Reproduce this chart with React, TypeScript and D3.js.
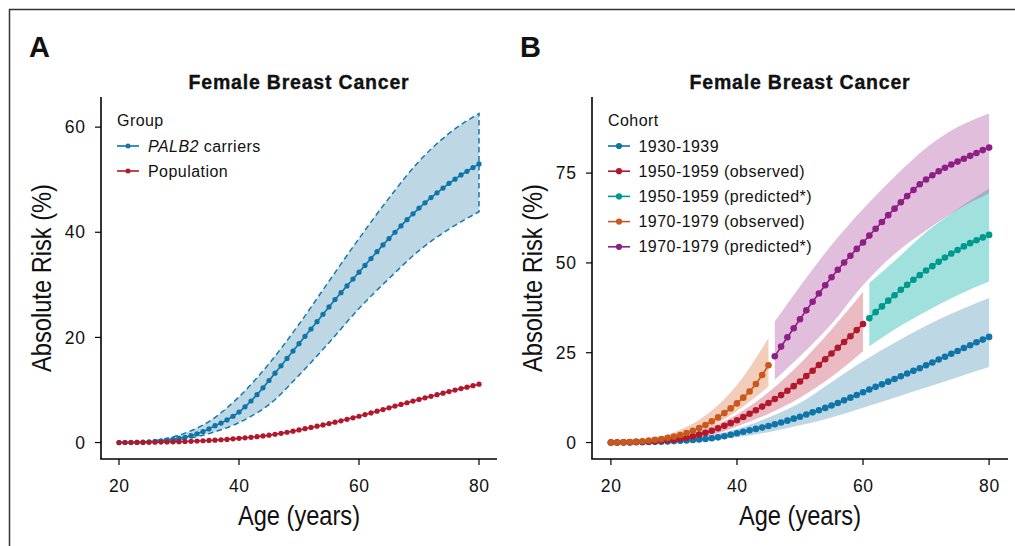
import React from 'react';
import * as d3 from 'd3';

// ---------- DATA ----------
const AGES = d3.range(20, 81); // 20..80
const BAND_AGES = [20, 25, 30, 35, 40, 45, 50, 55, 60, 65, 70, 75, 80];

// Panel A
const carriers = [
  0, 0.01, 0.03, 0.06, 0.1, 0.15, 0.22, 0.32, 0.45, 0.6,
  0.8, 1.0, 1.3, 1.65, 2.1, 2.6, 3.2, 3.7, 4.3, 5.0,
  5.8, 6.8, 7.9, 9.1, 10.4, 11.8, 13.2, 14.6, 16.0, 17.4,
  18.8, 20.2, 21.6, 23.0, 24.4, 25.8, 27.2, 28.5, 29.8, 31.1,
  32.4, 33.7, 35.0, 36.3, 37.6, 38.8, 40.0, 41.2, 42.4, 43.5,
  44.6, 45.6, 46.6, 47.5, 48.4, 49.3, 50.1, 50.9, 51.6, 52.3, 53.0,
];
const population = [
  0, 0.005, 0.01, 0.02, 0.03, 0.04, 0.06, 0.08, 0.1, 0.13,
  0.16, 0.2, 0.24, 0.29, 0.34, 0.4, 0.46, 0.53, 0.6, 0.7,
  0.8, 0.9, 1.0, 1.12, 1.25, 1.4, 1.58, 1.76, 1.96, 2.17,
  2.4, 2.63, 2.87, 3.11, 3.35, 3.6, 3.87, 4.14, 4.42, 4.71,
  5.0, 5.32, 5.64, 5.96, 6.28, 6.6, 6.93, 7.25, 7.57, 7.89,
  8.2, 8.5, 8.8, 9.1, 9.4, 9.7, 9.98, 10.26, 10.54, 10.82, 11.1,
];
const carriersUpper = [0, 0.25, 1.4, 4.0, 8.7, 15.0, 22.5, 30.7, 38.8, 46.5, 53.5, 58.8, 62.6];
const carriersLower = [0, 0.05, 0.5, 1.7, 3.8, 7.2, 12.8, 19.0, 25.5, 31.2, 36.5, 40.6, 43.9];

// Panel B
const c1930 = [
  0, 0.01, 0.02, 0.04, 0.07, 0.1, 0.14, 0.19, 0.25, 0.32,
  0.4, 0.5, 0.6, 0.72, 0.86, 1.0, 1.2, 1.45, 1.75, 2.15,
  2.6, 3.0, 3.4, 3.8, 4.2, 4.6, 5.1, 5.6, 6.1, 6.65,
  7.2, 7.8, 8.4, 9.0, 9.65, 10.3, 11.0, 11.75, 12.5, 13.25,
  14.0, 14.75, 15.5, 16.2, 16.95, 17.7, 18.45, 19.2, 19.95, 20.7,
  21.5, 22.3, 23.1, 23.9, 24.7, 25.5, 26.3, 27.1, 27.9, 28.65, 29.4,
];
const c1950obs = [
  0, 0.02, 0.05, 0.09, 0.14, 0.2, 0.28, 0.38, 0.5, 0.64,
  0.8, 1.05, 1.35, 1.75, 2.2, 2.7, 3.3, 3.95, 4.65, 5.4,
  6.2, 7.1, 8.0, 9.0, 10.0, 11.0, 12.1, 13.2, 14.4, 15.7,
  17.0, 18.5, 20.0, 21.6, 23.2, 24.8, 26.4, 28.0, 29.6, 31.3, 33.0,
]; // ages 20-60
const c1950pred = [
  34.6, 36.3, 37.9, 39.5, 41.0, 42.5, 43.9, 45.3, 46.6, 47.9,
  49.1, 50.3, 51.5, 52.6, 53.6, 54.6, 55.5, 56.3, 57.1, 57.8,
]; // ages 61-80
const c1970obs = [
  0, 0.03, 0.08, 0.15, 0.25, 0.38, 0.55, 0.75, 1.0, 1.3,
  1.65, 2.1, 2.65, 3.3, 4.05, 4.9, 5.9, 7.0, 8.2, 9.5,
  10.9, 12.5, 14.2, 16.3, 18.8, 21.5,
]; // ages 20-45
const c1970pred = [
  24.0, 26.7, 29.3, 31.8, 34.3, 36.8, 39.2, 41.5, 43.8, 46.0,
  48.1, 50.1, 52.0, 53.9, 55.7, 57.6, 59.5, 61.4, 63.3, 65.1,
  66.9, 68.6, 70.3, 71.9, 73.2, 74.4, 75.5, 76.5, 77.4, 78.2,
  79.0, 79.8, 80.6, 81.4, 82.1,
]; // ages 46-80

// Confidence bands (B)
const b1930Ages = [20, 25, 30, 35, 40, 45, 50, 55, 60, 65, 70, 75, 80];
const b1930Upper = [0, 0.2, 0.6, 1.8, 3.8, 7.0, 11.0, 16.8, 22.6, 27.8, 32.5, 36.6, 40.2];
const b1930Lower = [0, 0.05, 0.2, 0.6, 1.5, 2.9, 4.8, 7.0, 9.7, 12.5, 15.3, 18.2, 21.0];
const b1950oAges = [20, 25, 30, 35, 40, 45, 50, 55, 60];
const b1950oUpper = [0, 0.35, 1.3, 3.8, 7.8, 14.0, 22.0, 31.5, 42.0];
const b1950oLower = [0, 0.08, 0.4, 1.6, 4.5, 8.0, 12.5, 18.3, 25.4];
const b1950pAges = [61, 65, 70, 75, 80];
const b1950pUpper = [44.4, 50.5, 58.5, 65.0, 70.7];
const b1950pLower = [26.8, 31.5, 36.5, 41.0, 44.8];
const b1970oAges = [20, 25, 30, 35, 40, 45];
const b1970oUpper = [0, 0.6, 2.8, 7.5, 16.0, 29.1];
const b1970oLower = [0, 0.15, 1.0, 3.6, 8.8, 15.6];
const b1970pAges = [46, 50, 55, 60, 65, 70, 75, 80];
const b1970pUpper = [33.7, 43.5, 55.0, 65.0, 74.0, 82.0, 87.8, 91.6];
const b1970pLower = [17.5, 24.0, 33.0, 43.8, 52.5, 59.0, 64.8, 69.4];

const X_TICKS = [20, 40, 60, 80];
const Y_TICKS_A = [0, 20, 40, 60];
const Y_TICKS_B = [0, 25, 50, 75];

const GROUP_LABELS = ['PALB2', 'Population'];
const COHORT_LABELS = [
  '1930-1939',
  '1950-1959 (observed)',
  '1950-1959 (predicted*)',
  '1970-1979 (observed)',
  '1970-1979 (predicted*)',
];

// ---------- STYLE ----------
const FONT = "'Liberation Sans', Arial, Helvetica, sans-serif";
const BLUE = '#0F75A8';
const RED = '#B2182B';
const TEAL = '#00998E';
const ORANGE = '#C9581D';
const PURPLE = '#8E1F84';
const BAND_OPACITY = 0.4;
const BLUE_BAND = '#5A9BBE';
const RED_BAND = '#CD5569';
const TEAL_BAND = '#14B4AA';
const ORANGE_BAND = '#DE8252';
const PURPLE_BAND = '#B45FA7';

const TOP = 97;
const BOTTOM = 459;

function expandDomain(vals: number[]): [number, number] {
  const mn = d3.min(vals) as number;
  const mx = d3.max(vals) as number;
  const r = mx - mn;
  return [mn - 0.05 * r, mx + 0.05 * r];
}

type Series = { ages: number[]; vals: number[]; color: string };
type Band = { ages: number[]; up: number[]; lo: number[]; fill: string; dashed?: string };

function Panel(props: {
  left: number;
  right: number;
  letter: string;
  yTicks: number[];
  yDomain: [number, number];
  bands: Band[];
  series: Series[];
  dotR: number;
  lineW: number;
  children?: React.ReactNode;
}) {
  const { left, right, letter, yTicks, yDomain, bands, series, dotR, lineW } = props;
  const x = d3.scaleLinear().domain(expandDomain([20, 80])).range([left, right]);
  const y = d3.scaleLinear().domain(yDomain).range([BOTTOM, TOP]);
  const cx = (left + right) / 2;
  const line = d3
    .line<[number, number]>()
    .x((d) => x(d[0]))
    .y((d) => y(d[1]));
  return (
    <g>
      <text x={left - 72} y={56.5} fontFamily={FONT} fontWeight="bold" fontSize={29} fill="#111">
        {letter}
      </text>
      <text
        x={cx}
        y={89}
        textAnchor="middle"
        fontFamily={FONT}
        fontWeight="bold"
        fontSize={19.5}
        letterSpacing={0.8}
        fill="#111"
        stroke="#111"
        strokeWidth={0.35}
      >
        Female Breast Cancer
      </text>
      {/* bands */}
      {bands.map((b, i) => {
        const pts = b.ages.map((a, j) => [a, b.up[j], b.lo[j]] as [number, number, number]);
        const area = d3
          .area<[number, number, number]>()
          .x((d) => x(d[0]))
          .y0((d) => y(d[2]))
          .y1((d) => y(d[1]))
          .curve(d3.curveMonotoneX);
        return (
          <path
            key={'b' + i}
            d={area(pts) || ''}
            fill={b.fill}
            fillOpacity={BAND_OPACITY}
            stroke={b.dashed || 'none'}
            strokeWidth={b.dashed ? 1.5 : 0}
            strokeDasharray={b.dashed ? '5.5 3.5' : undefined}
          />
        );
      })}
      {/* lines */}
      {series.map((s, i) => (
        <path
          key={'l' + i}
          d={line(s.ages.map((a, j) => [a, s.vals[j]] as [number, number])) || ''}
          fill="none"
          stroke={s.color}
          strokeWidth={lineW}
        />
      ))}
      {/* points */}
      {series.map((s, i) => (
        <g key={'p' + i} fill={s.color}>
          {s.ages.map((a, j) => (
            <circle key={j} cx={x(a)} cy={y(s.vals[j])} r={dotR} />
          ))}
        </g>
      ))}
      {/* axes */}
      <line x1={left} x2={left} y1={TOP} y2={BOTTOM} stroke="#000" strokeWidth={1.6} />
      <line x1={left - 0.8} x2={right} y1={BOTTOM} y2={BOTTOM} stroke="#000" strokeWidth={1.6} />
      {yTicks.map((t) => (
        <g key={'yt' + t}>
          <line x1={left - 6} x2={left} y1={y(t)} y2={y(t)} stroke="#000" strokeWidth={1.2} />
          <text
            x={left - 15.5}
            y={y(t) + 6.2}
            textAnchor="end"
            fontFamily={FONT}
            fontSize={17.5}
            letterSpacing={0.6}
            fill="#111"
          >
            {t}
          </text>
        </g>
      ))}
      {X_TICKS.map((t) => (
        <g key={'xt' + t}>
          <line x1={x(t)} x2={x(t)} y1={BOTTOM} y2={BOTTOM + 6} stroke="#000" strokeWidth={1.2} />
          <text
            x={x(t) + 0.3}
            y={492}
            textAnchor="middle"
            fontFamily={FONT}
            fontSize={17.5}
            letterSpacing={0.6}
            fill="#111"
          >
            {t}
          </text>
        </g>
      ))}
      <text
        x={cx}
        y={525}
        textAnchor="middle"
        fontFamily={FONT}
        fontSize={27.5}
        textLength={122}
        lengthAdjust="spacingAndGlyphs"
        fill="#111"
      >
        Age (years)
      </text>
      <text
        transform={`translate(${left - 50}, ${(TOP + BOTTOM) / 2}) rotate(-90)`}
        textAnchor="middle"
        fontFamily={FONT}
        fontSize={28}
        textLength={188}
        lengthAdjust="spacingAndGlyphs"
        fill="#111"
      >
        Absolute Risk (%)
      </text>
      {props.children}
    </g>
  );
}

function LegendKey(props: { x: number; y: number; color: string; r: number }) {
  return (
    <g>
      <line x1={props.x} x2={props.x + 22} y1={props.y} y2={props.y} stroke={props.color} strokeWidth={1.6} />
      <circle cx={props.x + 11} cy={props.y} r={props.r} fill={props.color} />
    </g>
  );
}

export default function App() {
  const agesObs50 = AGES.filter((a) => a <= 60);
  const agesPred50 = AGES.filter((a) => a >= 61);
  const agesObs70 = AGES.filter((a) => a <= 45);
  const agesPred70 = AGES.filter((a) => a >= 46);

  const yDomA = expandDomain([0, ...carriersUpper, ...carriers, ...population]);
  const yDomB = expandDomain([0, ...b1970pUpper, ...c1970pred]);

  const cohortColors = [BLUE, RED, TEAL, ORANGE, PURPLE];
  const legTextStyle = { fontFamily: FONT, fontSize: 16, letterSpacing: 0.45, fill: '#111' } as const;

  return (
    <svg
      width={1015}
      height={546}
      viewBox="0 0 1015 546"
      style={{ position: 'absolute', left: 0, top: 0, background: '#fff' }}
    >
      <rect x={0} y={0} width={1015} height={546} fill="#fff" />
      <path d="M9.5,546 V9.5 H1015" fill="none" stroke="#333" strokeWidth={1.5} />

      <Panel
        left={101}
        right={497}
        letter="A"
        yTicks={Y_TICKS_A}
        yDomain={yDomA}
        dotR={2.6}
        lineW={1.6}
        bands={[{ ages: BAND_AGES, up: carriersUpper, lo: carriersLower, fill: BLUE_BAND, dashed: '#1679AB' }]}
        series={[
          { ages: AGES, vals: carriers, color: BLUE },
          { ages: AGES, vals: population, color: RED },
        ]}
      >
        <text x={117} y={126} {...legTextStyle}>Group</text>
        <LegendKey x={117} y={146} color={BLUE} r={2.5} />
        <text x={148} y={151.5} {...legTextStyle}>
          <tspan fontStyle="italic">{GROUP_LABELS[0]}</tspan> carriers
        </text>
        <LegendKey x={117} y={171} color={RED} r={2.5} />
        <text x={148} y={176.5} {...legTextStyle}>{GROUP_LABELS[1]}</text>
      </Panel>

      <Panel
        left={592}
        right={1008}
        letter="B"
        yTicks={Y_TICKS_B}
        yDomain={yDomB}
        dotR={3.3}
        lineW={1.6}
        bands={[
          { ages: b1930Ages, up: b1930Upper, lo: b1930Lower, fill: BLUE_BAND },
          { ages: b1950oAges, up: b1950oUpper, lo: b1950oLower, fill: RED_BAND },
          { ages: b1950pAges, up: b1950pUpper, lo: b1950pLower, fill: TEAL_BAND },
          { ages: b1970oAges, up: b1970oUpper, lo: b1970oLower, fill: ORANGE_BAND },
          { ages: b1970pAges, up: b1970pUpper, lo: b1970pLower, fill: PURPLE_BAND },
        ]}
        series={[
          { ages: AGES, vals: c1930, color: BLUE },
          { ages: agesObs50, vals: c1950obs, color: RED },
          { ages: agesPred50, vals: c1950pred, color: TEAL },
          { ages: agesObs70, vals: c1970obs, color: ORANGE },
          { ages: agesPred70, vals: c1970pred, color: PURPLE },
        ]}
      >
        <text x={608} y={126} {...legTextStyle}>Cohort</text>
        {COHORT_LABELS.map((lab, i) => (
          <g key={lab}>
            <LegendKey x={608} y={146 + i * 25.2} color={cohortColors[i]} r={3.1} />
            <text x={638.5} y={151.5 + i * 25.2} {...legTextStyle}>{lab}</text>
          </g>
        ))}
      </Panel>
    </svg>
  );
}
